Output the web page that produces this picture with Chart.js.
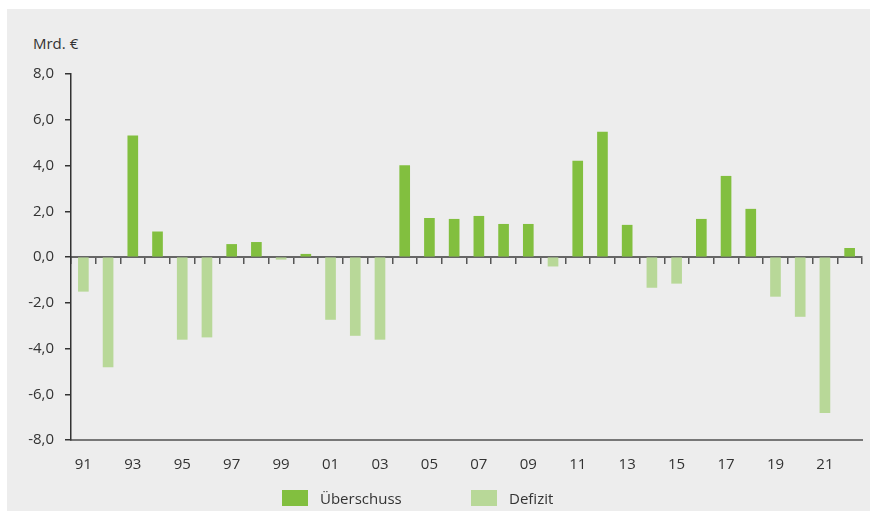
<!DOCTYPE html>
<html>
<head>
<meta charset="utf-8">
<script src="https://cdn.jsdelivr.net/npm/chart.js@4"></script>
<style>
  body { margin: 0; background: #fff; }
  #panel { position: absolute; left: 7px; top: 9px; width: 863px; height: 502px; background: #ededed; }
  #unit { position: absolute; left: 26px; top: 24px; font: 15px "Open Sans", sans-serif; color: #333; }
  canvas { position: absolute; left: 0; top: 0; }
  .leg { position: absolute; top: 479px; font: 15px "Open Sans", sans-serif; color: #333; line-height: 20px; }
  .leg span { position: absolute; left: 0; top: 2px; width: 26px; height: 16px; }
  .leg b { font-weight: normal; position: absolute; white-space: nowrap; left: 38px; top: 0; }
</style>
</head>
<body>
<div id="panel">
  <div id="unit">Mrd. €</div>
  <canvas id="myChart" width="863" height="502"></canvas>
  <div class="leg" id="leg0" style="left:275px"><span></span><b></b></div>
  <div class="leg" id="leg1" style="left:464px"><span></span><b></b></div>
</div>
<script>
const years = [
  "91", "92", "93", "94", "95", "96", "97", "98", "99", "00",
  "01", "02", "03", "04", "05", "06", "07", "08", "09", "10",
  "11", "12", "13", "14", "15", "16", "17", "18", "19", "20",
  "21", "22",
];
// Finanzierungssaldo in Mrd. €
const saldo = [
  -1.5, -4.8, 5.3, 1.1, -3.6, -3.5, 0.55, 0.64, -0.1, 0.12,
  -2.73, -3.43, -3.6, 4.0, 1.69, 1.65, 1.78, 1.43, 1.43, -0.4,
  4.19, 5.46, 1.39, -1.33, -1.15, 1.65, 3.53, 2.09, -1.72, -2.6,
  -6.8, 0.38,
];
const yTicks = [-8, -6, -4, -2, 0, 2, 4, 6, 8];
const seriesNames = ["Überschuss", "Defizit"];
const seriesColors = ["#82bf3f", "#b8d898"];

const ueberschuss = saldo.map((v) => (v > 0 ? v : null));
const defizit = saldo.map((v) => (v < 0 ? v : null));

const textColor = "#333";
const font = { family: "'Open Sans', sans-serif", size: 15 };

// legend as html
seriesNames.forEach((name, i) => {
  let el = document.getElementById("leg" + i);
  el.querySelector("span").style.background = seriesColors[i];
  el.querySelector("b").textContent = name;
});

new Chart("myChart", {
  type: "bar",
  data: {
    labels: years,
    datasets: [
      {
        label: seriesNames[0],
        data: ueberschuss,
        backgroundColor: seriesColors[0],
        barThickness: 10,
        grouped: false,
      },
      {
        label: seriesNames[1],
        data: defizit,
        backgroundColor: seriesColors[1],
        barThickness: 10,
        grouped: false,
      },
    ],
  },
  options: {
    responsive: false,
    animation: false,
    layout: { padding: { top: 65, right: 8, bottom: 31, left: 0 } },
    plugins: {
      tooltip: { enabled: false },
      legend: { display: false },
    },
    scales: {
      x: {
        offset: true,
        grid: { offset: true, drawOnChartArea: false, drawTicks: false },
        border: { color: "#777", width: 2 },
        ticks: {
          color: textColor,
          font: font,
          padding: 16,
          autoSkip: false,
          maxRotation: 0,
          callback: function (val, i) {
            return i % 2 === 0 ? years[i] : "";
          },
        },
        afterFit: function (scale) {
          scale.height = 40;
        },
      },
      x0: {
        type: "category",
        position: { y: 0 },
        offset: true,
        grid: { offset: true, drawOnChartArea: false, tickLength: 6, color: "#555", lineWidth: 1.5 },
        border: { color: "#666", width: 2 },
        ticks: { display: false },
      },
      y: {
        min: -8,
        max: 8,
        afterBuildTicks: function (scale) {
          scale.ticks = yTicks.map((v) => ({ value: v }));
        },
        grid: { drawOnChartArea: false, tickLength: 6, color: textColor, lineWidth: 1.5 },
        border: { color: textColor, width: 1.5 },
        ticks: {
          color: textColor,
          font: font,
          padding: 11,
          callback: function (v) {
            return v.toFixed(1).replace(".", ",");
          },
        },
        afterFit: function (scale) {
          scale.width = 64;
        },
      },
    },
  },
});
</script>
</body>
</html>
